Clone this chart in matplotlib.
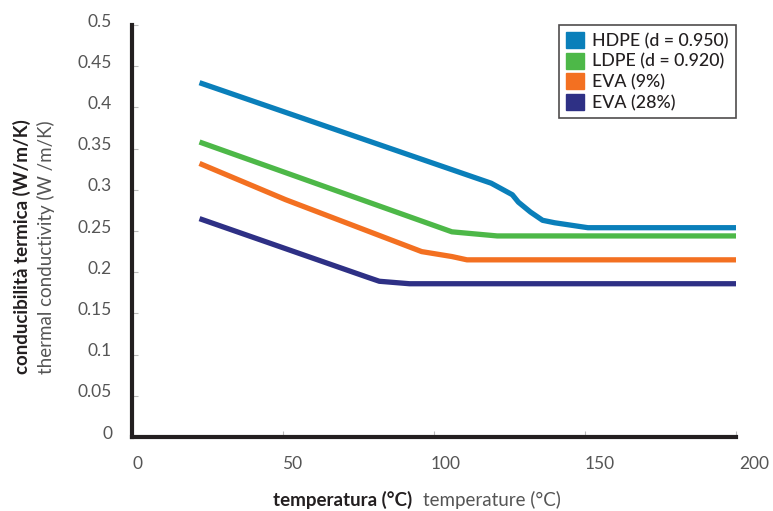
import matplotlib
matplotlib.use("Agg")
import matplotlib.pyplot as plt
from matplotlib.patches import Patch
from matplotlib.transforms import ScaledTranslation

# ---- data ----
series_names = ["HDPE (d = 0.950)", "LDPE (d = 0.920)", "EVA (9%)", "EVA (28%)"]
hdpe_x = [22.5, 119, 126, 128, 132, 136, 140, 151, 200]
hdpe_y = [0.430, 0.308, 0.294, 0.285, 0.273, 0.263, 0.260, 0.254, 0.254]
ldpe_x = [22.5, 106, 121, 200]
ldpe_y = [0.358, 0.249, 0.244, 0.244]
eva9_x = [22.5, 51, 96, 106, 111, 200]
eva9_y = [0.332, 0.288, 0.225, 0.219, 0.215, 0.215]
eva28_x = [22.5, 78, 82, 92, 200]
eva28_y = [0.265, 0.194, 0.189, 0.186, 0.186]
x_ticks = [0, 50, 100, 150, 200]
x_tick_labels = ["0", "50", "100", "150", "200"]
y_ticks = [0, 0.05, 0.1, 0.15, 0.2, 0.25, 0.3, 0.35, 0.4, 0.45, 0.5]
y_tick_labels = ["0", "0.05", "0.1", "0.15", "0.2", "0.25", "0.3", "0.35", "0.4", "0.45", "0.5"]
colors = ["#0a7fba", "#4db848", "#f37021", "#2e3085"]

plt.rcParams['font.family'] = ['Lato', 'DejaVu Sans']

W, H = 773, 511
fig = plt.figure(figsize=(W / 100, H / 100), dpi=100)
ax = fig.add_axes([131.5 / W, (H - 437) / H, (736 - 131.5) / W, (437 - 25) / H])

xs = [hdpe_x, ldpe_x, eva9_x, eva28_x]
ys = [hdpe_y, ldpe_y, eva9_y, eva28_y]
for x, y, c in zip(xs, ys, colors):
    ax.plot(x, y, color=c, lw=3.8, solid_joinstyle='round', solid_capstyle='butt', clip_on=False)

ax.set_xlim(0, 200)
ax.set_ylim(0, 0.5)
for s in ["top", "right"]:
    ax.spines[s].set_visible(False)
for s in ["left", "bottom"]:
    ax.spines[s].set_linewidth(3)
    ax.spines[s].set_color("#231f20")

ax.set_xticks(x_ticks)
ax.set_xticklabels(x_tick_labels)
ax.set_yticks(y_ticks)
ax.set_yticklabels(y_tick_labels)
ax.tick_params(direction='in', length=4, width=0.8, color='#bbbbbb',
               labelsize=12.5, labelcolor='#555555')
ax.tick_params(axis='x', pad=14)
ax.tick_params(axis='y', pad=14)
for lbl in ax.get_yticklabels():
    lbl.set_transform(lbl.get_transform() + ScaledTranslation(0, 5 / 100, fig.dpi_scale_trans))
for i, lbl in enumerate(ax.get_xticklabels()):
    lbl.set_transform(lbl.get_transform() + ScaledTranslation((6 + 3 * i) / 100, 0, fig.dpi_scale_trans))

handles = [Patch(facecolor=c, edgecolor=c, label=n) for n, c in zip(series_names, colors)]
leg = ax.legend(handles=handles, loc='upper right', bbox_to_anchor=(1.0, 1.0),
                borderaxespad=0, frameon=True, fancybox=False, fontsize=12.8,
                handlelength=1.0, handleheight=1.0, handletextpad=0.5,
                labelspacing=0.2, borderpad=0.4)
leg.get_frame().set_edgecolor('#231f20')
leg.get_frame().set_linewidth(1.2)
for t in leg.get_texts():
    t.set_color('#231f20')
    t.set_fontweight('medium')

# axis titles
fig.text(412 / W, 1 - 500 / H, "temperatura (°C)", ha='right', va='center',
         fontsize=13.5, fontweight='bold', color='#231f20')
fig.text(423 / W, 1 - 500 / H, "temperature (°C)", ha='left', va='center',
         fontsize=13.5, color='#555555')
fig.text(22 / W, 1 - 374 / H, "conducibilità termica (W/m/K)", rotation=90,
         ha='center', va='bottom', fontsize=13.5, fontweight='bold', color='#231f20')
fig.text(46 / W, 1 - 374 / H, "thermal conductivity (W /m/K)", rotation=90,
         ha='center', va='bottom', fontsize=13.5, color='#555555')

fig.savefig("out.png", dpi=100)
